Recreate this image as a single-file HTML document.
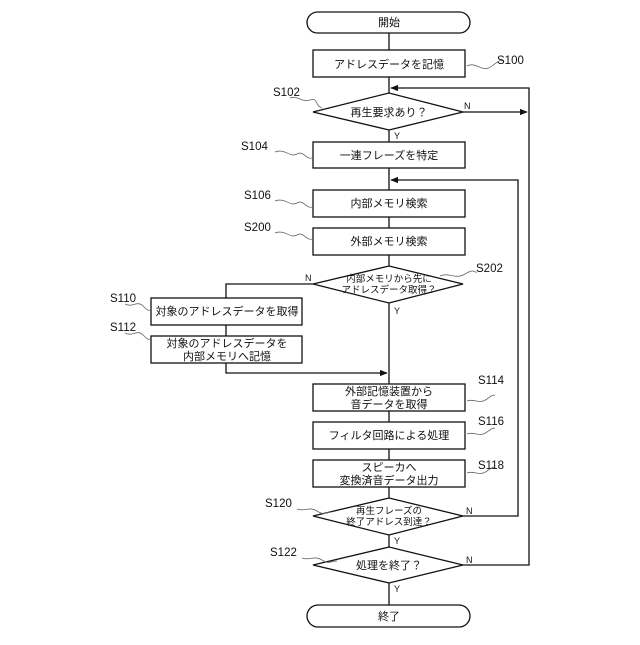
<!DOCTYPE html>
<html><head><meta charset="utf-8"><style>
html,body{margin:0;padding:0;background:#fff}
text{font-family:"Liberation Sans","Noto Sans CJK JP",sans-serif;fill:#111}
</style></head><body>
<svg width="640" height="640" viewBox="0 0 640 640" xmlns="http://www.w3.org/2000/svg">
<defs><marker id="a" viewBox="0 0 10 10" refX="9" refY="5" markerWidth="6" markerHeight="6" orient="auto"><path d="M0,1 L10,5 L0,9 z" fill="#111"/></marker></defs>
<g stroke="#111" stroke-width="1.3" fill="none">
<rect x="307" y="12" width="163" height="21" rx="10.5"/>
<rect x="313" y="50" width="152" height="27"/>
<polygon points="313,112 389,93 463,112 389,130"/>
<rect x="313" y="142" width="152" height="26"/>
<rect x="313" y="190" width="152" height="27"/>
<rect x="313" y="228" width="152" height="27"/>
<polygon points="313,284 389,266 463,284 389,303"/>
<rect x="151" y="298" width="151" height="27"/>
<rect x="151" y="336" width="151" height="27"/>
<rect x="313" y="384" width="152" height="27"/>
<rect x="313" y="422" width="152" height="27"/>
<rect x="313" y="460" width="152" height="27"/>
<polygon points="313,516 389,498 463,516 389,535"/>
<polygon points="313,565 389,547 463,565 389,583"/>
<rect x="307" y="605" width="163" height="22" rx="11"/>
<path d="M389 33V50M389 77V93M389 130V142M389 168V190M389 217V228M389 255V266M389 303V384M389 411V422M389 449V460M389 487V498M389 535V547M389 583V605"/>
<path d="M463 112H527" marker-end="url(#a)"/>
<path d="M463 565H529V88H391" marker-end="url(#a)"/>
<path d="M463 516H518V180H391" marker-end="url(#a)"/>
<path d="M313 284H226V298M226 325V336"/>
<path d="M226 363V373H387" marker-end="url(#a)"/>
<g stroke-width="0.8" stroke="#666">
<path d="M467 66c10 -5 15 8 25 0s10 -5 12 -5"/>
<path d="M290 98c8 -3 12 5 20 2s5 6 12 8"/>
<path d="M275 152c10 -4 15 6 22 2s8 6 16 4"/>
<path d="M275 201c10 -4 15 6 22 2s8 6 16 4"/>
<path d="M275 233c10 -4 15 6 22 2s8 6 16 4"/>
<path d="M440 276c10 -4 15 4 25 -2s8 -1 12 -2"/>
<path d="M125 304c8 4 12 -4 18 2s6 4 8 4"/>
<path d="M125 333c8 4 12 -4 18 2s6 4 8 4"/>
<path d="M467 401c8 -3 12 4 20 -2s6 -3 8 -4"/>
<path d="M467 434c8 -3 12 4 20 -2s6 -3 8 -4"/>
<path d="M467 473c8 -3 12 4 20 -2s6 -3 8 -4"/>
<path d="M297 509c8 3 12 -3 20 2s8 1 15 1"/>
<path d="M302 558c8 3 12 -3 20 2s8 1 15 1"/>
</g>
</g>
<g font-size="11" text-anchor="middle">
<text x="389" y="26">開始</text>
<text x="389" y="68">アドレスデータを記憶</text>
<text x="389" y="116">再生要求あり？</text>
<text x="389" y="159">一連フレーズを特定</text>
<text x="389" y="207">内部メモリ検索</text>
<text x="389" y="245">外部メモリ検索</text>
<text x="389" y="282" font-size="9.5">内部メモリから先に</text>
<text x="389" y="293" font-size="9.5">アドレスデータ取得？</text>
<text x="227" y="315">対象のアドレスデータを取得</text>
<text x="227" y="347">対象のアドレスデータを</text>
<text x="227" y="360">内部メモリへ記憶</text>
<text x="389" y="395">外部記憶装置から</text>
<text x="389" y="408">音データを取得</text>
<text x="389" y="439">フィルタ回路による処理</text>
<text x="389" y="471">スピーカへ</text>
<text x="389" y="484">変換済音データ出力</text>
<text x="389" y="514" font-size="9.5">再生フレーズの</text>
<text x="389" y="525" font-size="9.5">終了アドレス到達？</text>
<text x="389" y="569">処理を終了？</text>
<text x="389" y="620">終了</text>
</g>
<g font-size="9">
<text x="464" y="109">N</text><text x="394" y="139">Y</text>
<text x="305" y="281">N</text><text x="394" y="314">Y</text>
<text x="466" y="514">N</text><text x="394" y="544">Y</text>
<text x="466" y="563">N</text><text x="394" y="592">Y</text>
</g>
<g font-size="11.5">
<text x="497" y="64">S100</text>
<text x="273" y="96">S102</text>
<text x="241" y="150">S104</text>
<text x="244" y="199">S106</text>
<text x="244" y="231">S200</text>
<text x="476" y="272">S202</text>
<text x="110" y="302">S110</text>
<text x="110" y="331">S112</text>
<text x="478" y="384">S114</text>
<text x="478" y="425">S116</text>
<text x="478" y="469">S118</text>
<text x="265" y="507">S120</text>
<text x="270" y="556">S122</text>
</g>
</svg>
</body></html>
